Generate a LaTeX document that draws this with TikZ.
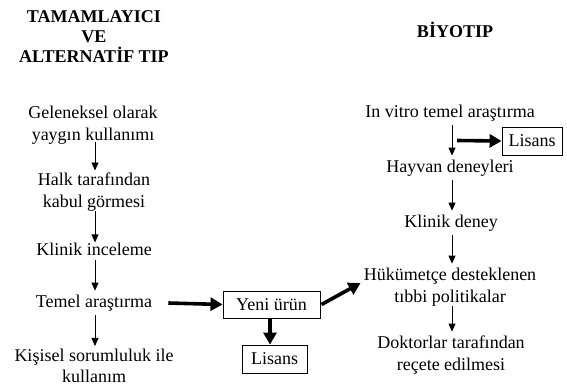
\documentclass[tikz,border=0pt]{standalone}
\usepackage{fontspec}
\setmainfont{Liberation Serif}
\usetikzlibrary{arrows.meta}
\begin{document}
\begin{tikzpicture}[x=1pt,y=-1pt,
  lbl/.style={inner sep=0pt,align=center,font=\fontsize{18}{22}\selectfont},
  ttl/.style={inner sep=0pt,align=center,font=\fontsize{18}{20}\selectfont\bfseries},
  boxed/.style={draw,line width=0.9pt,inner sep=0pt,font=\fontsize{18}{22}\selectfont},
  tarrow/.style={line width=0.9pt,-{Triangle[length=8pt,width=7pt]}},
  karrow/.style={line width=3.6pt,-{Triangle[length=12pt,width=13pt]}}]
\useasboundingbox (0,0) rectangle (567,386);
% titles
\node[ttl] (t1) at (94,37) {TAMAMLAYICI\\VE\\ALTERNATİF TIP};
\node[ttl] (t2) at (455,30) {BİYOTIP};
% left column
\node[lbl] (g1) at (93,125) {Geleneksel olarak\\yaygın kullanımı};
\node[lbl] (g2) at (94,192) {Halk tarafından\\kabul görmesi};
\node[lbl] (g3) at (94,249) {Klinik inceleme};
\node[lbl] (g4) at (94,303) {Temel araştırma};
\node[lbl,font=\fontsize{18}{21}\selectfont] (g5) at (94,366) {Kişisel sorumluluk ile\\kullanım};
% middle boxes
\node[boxed,minimum width=97pt,minimum height=27pt] (yeni) at (271.5,304.5) {Yeni ürün};
\node[boxed,minimum width=65pt,minimum height=28pt] (lis1) at (274.5,359) {Lisans};
% right column
\node[lbl] (r1) at (450,113) {In vitro temel araştırma};
\node[lbl] (r2) at (450,168) {Hayvan deneyleri};
\node[lbl] (r3) at (451,223) {Klinik deney};
\node[lbl] (r4) at (450,287) {Hükümetçe desteklenen\\tıbbi politikalar};
\node[lbl] (r5) at (451,355) {Doktorlar tarafından\\reçete edilmesi};
\node[boxed,minimum width=60pt,minimum height=28pt] (lis2) at (532,141) {Lisans};
\coordinate (s2) at (457,140.5);
% left arrows
\draw[tarrow] ([xshift=2pt,yshift=2pt]g1.south) -- ([xshift=2pt,yshift=2pt]g1.south |- g2.north) ;
\draw[tarrow] ([xshift=1pt]g2.south) -- ([xshift=1pt]g2.south |- g3.north);
\draw[tarrow] ([xshift=1pt,yshift=-4pt]g3.south) -- ([xshift=1pt,yshift=4pt]g3.south |- g4.north);
\draw[tarrow] ([xshift=1pt,yshift=-4pt]g4.south) -- ([xshift=1pt,yshift=3pt]g4.south |- g5.north);
% right arrows
\draw[tarrow] ([xshift=2pt,yshift=-4pt]r1.south) -- ([xshift=2pt,yshift=4pt]r1.south |- r2.north);
\draw[tarrow] ([xshift=2pt,yshift=-4pt]r2.south) -- ([xshift=2pt,yshift=4pt]r2.south |- r3.north);
\draw[tarrow] ([xshift=1pt,yshift=-4pt]r3.south) -- ([xshift=1pt,yshift=4pt]r3.south |- r4.north);
\draw[tarrow] ([xshift=2pt]r4.south) -- ([xshift=2pt,yshift=4pt]r4.south |- r5.north);
% thick arrows
\draw[karrow] ([xshift=16pt]g4.east) -- (yeni.west);
\draw[karrow] ([xshift=-1.5pt]yeni.south) -- ([xshift=-1.5pt]yeni.south |- lis1.north);
\draw[karrow] ([xshift=1pt]yeni.east) -- ([xshift=-3pt,yshift=4pt]r4.west);
\draw[karrow] (s2) -- (lis2.west);
\end{tikzpicture}
\end{document}
